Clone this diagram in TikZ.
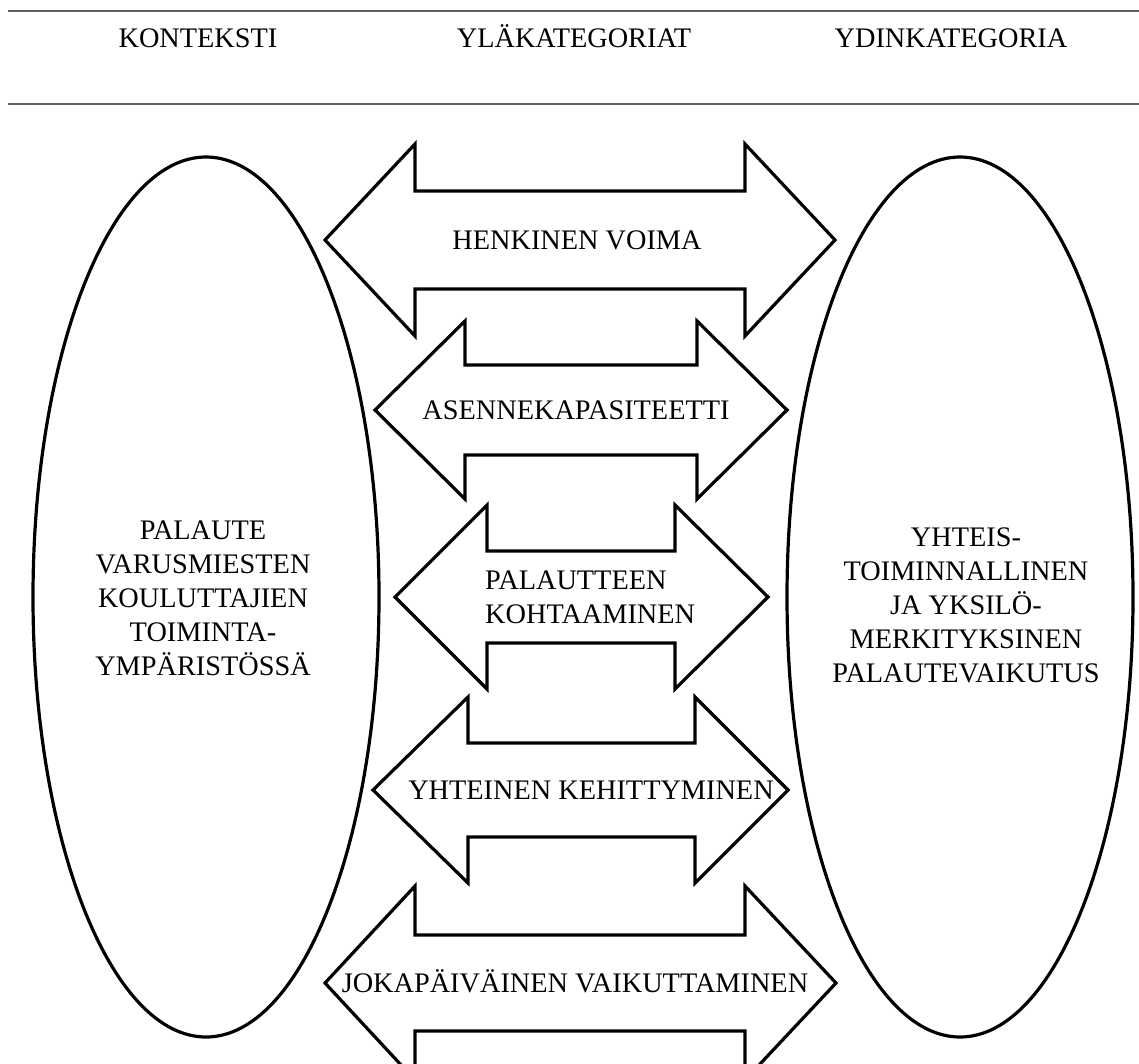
\documentclass[tikz,border=0pt]{standalone}
\usepackage{fontspec}
\setmainfont{Liberation Serif}
\usetikzlibrary{shapes.geometric}

% Outline of a two-headed block arrow:
% #1 centre y, #2 left tip x, #3 left head base x, #4 right head base x,
% #5 right tip x, #6 half shaft height, #7 half head height
\newcommand\twinarrowpath[7]{%
  \draw[outline] (#2,#1) -- (#3,#1-#7) -- (#3,#1-#6) -- (#4,#1-#6)
    -- (#4,#1-#7) -- (#5,#1) -- (#4,#1+#7) -- (#4,#1+#6)
    -- (#3,#1+#6) -- (#3,#1+#7) -- cycle;}

\begin{document}
\begin{tikzpicture}[x=1pt,y=-1pt,
  outline/.style={line width=3.2pt, line join=miter, draw=black},
  rule/.style={line width=2.2pt, draw=black!62},
  txt/.style={font=\fontsize{28.3}{34}\selectfont, inner sep=0pt, text=black},
  oneline/.style={txt, text height=18.7pt, text depth=0pt},
  oval/.style={draw=black, line width=3.2pt, ellipse, minimum width=346pt,
    minimum height=880pt, inner sep=0pt},
]
\useasboundingbox (0,0) rectangle (1139,1063);
\clip (0,0) rectangle (1139,1063);

% header band
\coordinate (topL) at (8,11);
\coordinate (topR) at (1139,11);
\coordinate (botL) at (8,104);
\coordinate (botR) at (1139,104);
\draw[rule] (topL) -- (topR);
\draw[rule] (botL) -- (botR);

\node[oneline] (hctx) at (198,38) {KONTEKSTI};
\node[oneline] (hsup) at (574,38) {YLÄKATEGORIAT};
\node[oneline] (hcore) at (951,38) {YDINKATEGORIA};

% context and core category
\node[oval] (context) at (206,597) {};
\node[txt, align=center] (contextlbl) at (203,598)
  {PALAUTE\\VARUSMIESTEN\\KOULUTTAJIEN\\TOIMINTA-\\YMPÄRISTÖSSÄ};
\node[oval] (core) at (960,597) {};
\node[txt, align=center] (corelbl) at (966,605)
  {YHTEIS-\\TOIMINNALLINEN\\JA YKSILÖ-\\MERKITYKSINEN\\PALAUTEVAIKUTUS};

% upper categories as two-headed arrows
\twinarrowpath{240}{325}{415}{745}{835}{49}{96}
\node[oneline] (spirit) at (577,240) {HENKINEN VOIMA};

\twinarrowpath{410}{375}{465}{697}{787}{45}{89}
\node[oneline] (attitude) at (576,410) {ASENNEKAPASITEETTI};

\twinarrowpath{597}{395}{487}{675}{768}{46}{92}
\node[txt, align=left, anchor=west] (facing) at (485,597) {PALAUTTEEN\\KOHTAAMINEN};

\twinarrowpath{790}{373}{468}{695}{788}{47}{93}
\node[oneline] (growth) at (591,790) {YHTEINEN KEHITTYMINEN};

\twinarrowpath{983}{325}{415}{745}{836}{48}{97}
\node[oneline] (daily) at (575,983) {JOKAPÄIVÄINEN VAIKUTTAMINEN};
\end{tikzpicture}
\end{document}
